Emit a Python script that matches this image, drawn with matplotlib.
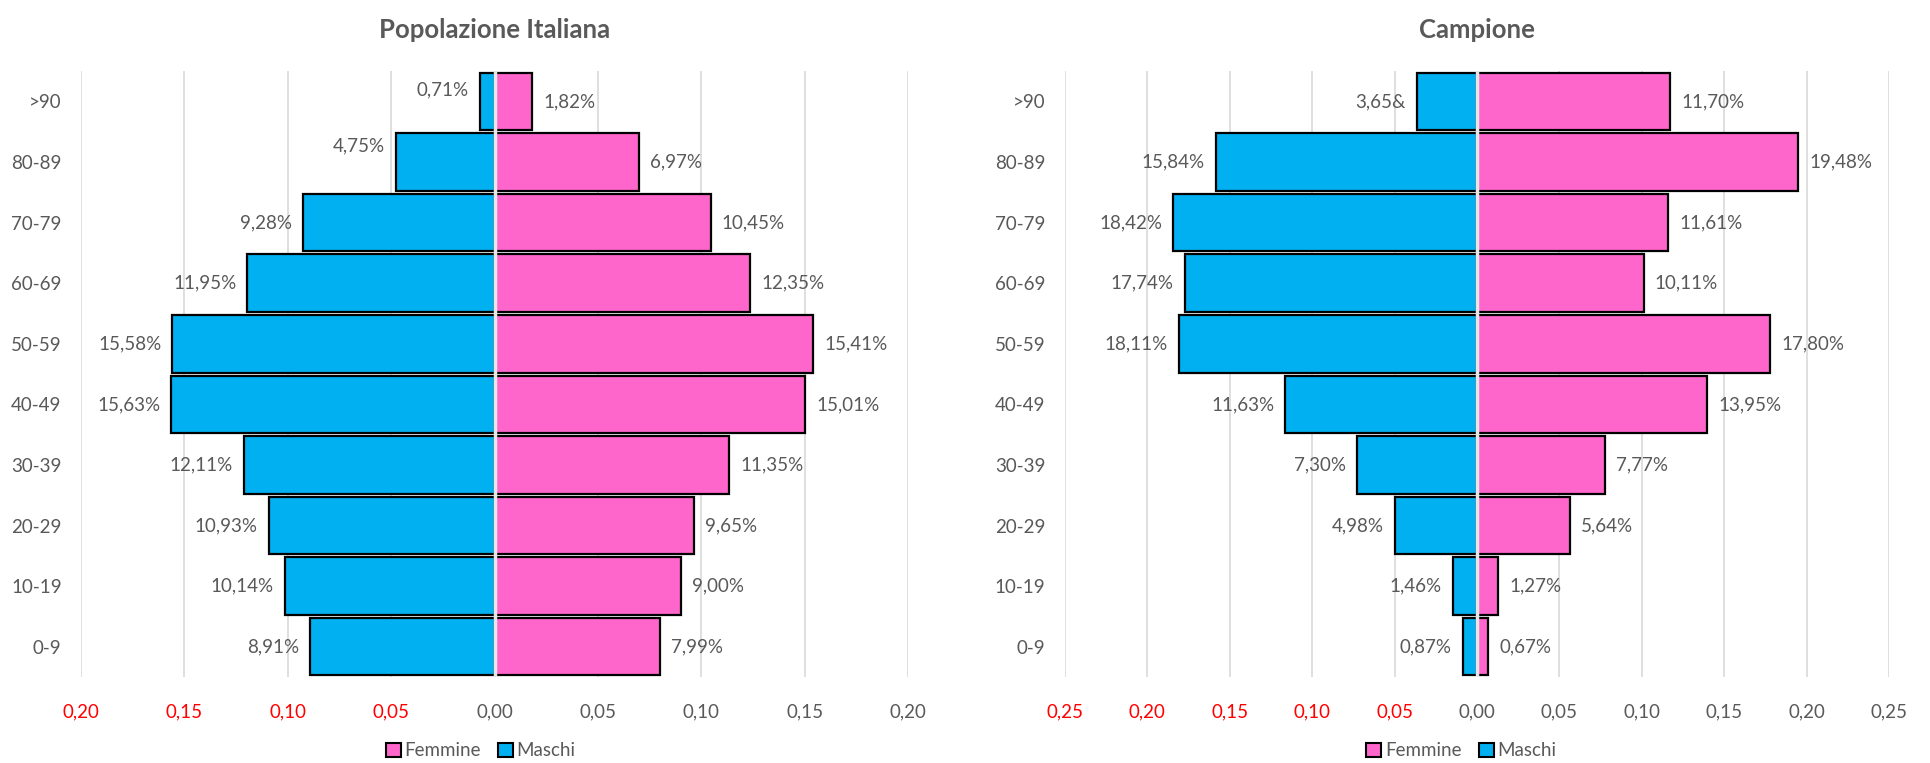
import matplotlib
matplotlib.use("Agg")
import matplotlib.pyplot as plt
from matplotlib.patches import Patch
from matplotlib.ticker import FuncFormatter

plt.rcParams['font.family'] = ['Lato', 'DejaVu Sans']

categories = ["0-9", "10-19", "20-29", "30-39", "40-49", "50-59", "60-69", "70-79", "80-89", ">90"]

ita_maschi = [8.91, 10.14, 10.93, 12.11, 15.63, 15.58, 11.95, 9.28, 4.75, 0.71]
ita_femmine = [7.99, 9.00, 9.65, 11.35, 15.01, 15.41, 12.35, 10.45, 6.97, 1.82]

camp_maschi = [0.87, 1.46, 4.98, 7.30, 11.63, 18.11, 17.74, 18.42, 15.84, 3.65]
camp_femmine = [0.67, 1.27, 5.64, 7.77, 13.95, 17.80, 10.11, 11.61, 19.48, 11.70]

ita_ticks = [-0.20, -0.15, -0.10, -0.05, 0.00, 0.05, 0.10, 0.15, 0.20]
camp_ticks = [-0.25, -0.20, -0.15, -0.10, -0.05, 0.00, 0.05, 0.10, 0.15, 0.20, 0.25]

titles = ["Popolazione Italiana", "Campione"]
legend_labels = ["Femmine", "Maschi"]

BLUE = "#00B0F0"
PINK = "#FF66CC"
GRAY = "#595959"
GRID = "#D9D9D9"
FS = 13.5


def fmt_pct(v):
    return f"{v:.2f}".replace(".", ",") + "%"


def draw(ax, maschi, femmine, ticks, title, maschi_texts=None, m_offsets=None, legend_x=0.48):
    y = list(range(len(categories)))
    m = [-v / 100 for v in maschi]
    f = [v / 100 for v in femmine]
    ax.barh(y, m, height=0.95, color=BLUE, edgecolor="black", linewidth=1.6, zorder=3)
    ax.barh(y, f, height=0.95, color=PINK, edgecolor="black", linewidth=1.6, zorder=3)
    ax.axvline(0, color="#E6E6E6", linewidth=2.5, zorder=4)
    ax.set_xlim(ticks[0], ticks[-1])
    ax.set_ylim(-0.5, len(categories) - 0.5)
    ax.set_xticks(ticks)
    ax.xaxis.set_major_formatter(FuncFormatter(lambda v, p: f"{abs(v):.2f}".replace(".", ",")))
    ax.grid(axis="x", color=GRID, linewidth=1.2, zorder=0)
    ax.set_axisbelow(True)
    for s in ax.spines.values():
        s.set_visible(False)
    ax.tick_params(axis="both", length=0, labelsize=FS, colors=GRAY)
    ax.tick_params(axis="x", pad=19)
    ax.tick_params(axis="y", pad=14)
    for t, v in zip(ax.get_xticklabels(), ticks):
        if v < 0:
            t.set_color("red")
    ax.set_yticks(y)
    ax.set_yticklabels(categories)
    for i in y:
        txt = maschi_texts[i] if maschi_texts else fmt_pct(maschi[i])
        dy = m_offsets.get(i, 0) if m_offsets else 0
        ax.annotate(txt, (m[i], i), xytext=(-8, dy), textcoords="offset points",
                    ha="right", va="center", fontsize=FS, color=GRAY, zorder=5)
        ax.annotate(fmt_pct(femmine[i]), (f[i], i), xytext=(8, 0), textcoords="offset points",
                    ha="left", va="center", fontsize=FS, color=GRAY, zorder=5)
    ax.set_title(title, fontsize=18.5, fontweight="bold", color=GRAY, pad=24)
    handles = [Patch(facecolor=PINK, edgecolor="black", linewidth=1.5),
               Patch(facecolor=BLUE, edgecolor="black", linewidth=1.5)]
    ax.legend(handles, legend_labels, loc="center", bbox_to_anchor=(legend_x, -0.122),
              ncol=2, frameon=False, fontsize=FS, handlelength=0.8, handleheight=0.8,
              handletextpad=0.2, columnspacing=0.9, labelcolor=GRAY,
              borderpad=0, borderaxespad=0)


fig = plt.figure(figsize=(19.3, 7.63), dpi=100)
ax1 = fig.add_axes([0.042, 0.1127, 0.4285, 0.794])
ax2 = fig.add_axes([0.5518, 0.1127, 0.427, 0.794])

draw(ax1, ita_maschi, ita_femmine, ita_ticks, titles[0], m_offsets={9: 8, 8: 12}, legend_x=0.483)
camp_m_texts = [fmt_pct(v) for v in camp_maschi]
camp_m_texts[9] = "3,65&"
draw(ax2, camp_maschi, camp_femmine, camp_ticks, titles[1], maschi_texts=camp_m_texts, legend_x=0.481)

fig.savefig("out.png", dpi=100)
